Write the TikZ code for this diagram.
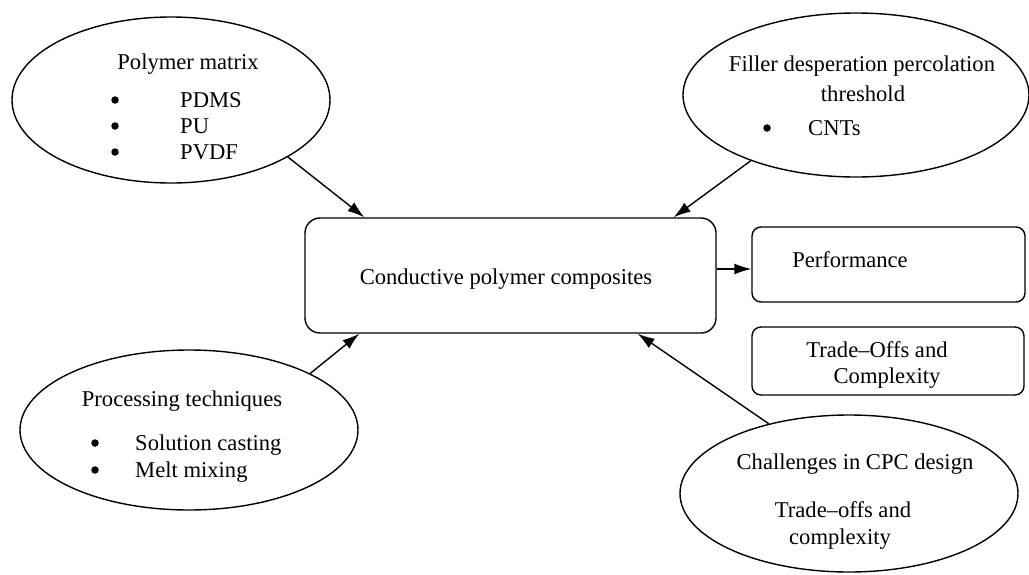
\documentclass[tikz,border=0pt]{standalone}
\usepackage{fontspec}
\setmainfont{Liberation Serif}
\usetikzlibrary{shapes.geometric,arrows.meta}
\begin{document}
\begin{tikzpicture}[x=1pt,y=-1pt,
  font=\fontsize{22.6}{27}\selectfont,
  bubble/.style={draw, ellipse, line width=1.4pt, inner sep=0pt},
  cbox/.style={draw, rounded corners=15pt, line width=1.4pt, inner sep=0pt},
  sbox/.style={draw, rounded corners=9pt, line width=1.4pt, inner sep=0pt},
  txt/.style={inner sep=0pt},
  item/.style={inner sep=0pt, anchor=west},
  dot/.style={circle, fill, inner sep=0pt, minimum size=7.5pt},
  link/.style={line width=1.4pt, -{Latex[length=17pt,width=11pt]}}]
\useasboundingbox (0,0) rectangle (1029,574);

% outlines
\node[bubble, minimum width=318pt, minimum height=166pt] (pm) at (171,100) {};
\node[bubble, minimum width=346pt, minimum height=164pt] (fil) at (856,95) {};
\node[bubble, minimum width=338pt, minimum height=160pt] (proc) at (189,430) {};
\node[bubble, minimum width=338pt, minimum height=157pt] (chal) at (849,493.5) {};
\node[cbox, minimum width=411pt, minimum height=115pt] (cpc) at (510.5,275.5) {};
\node[sbox, minimum width=273pt, minimum height=75pt] (perf) at (888.5,264.5) {};
\node[sbox, minimum width=272pt, minimum height=68pt] (trade) at (888,361) {};

% polymer matrix
\node[txt] (pmt) at (188,64) {Polymer matrix};
\node[dot] (pmb1) at (115,100) {};
\node[dot] (pmb2) at (115,126) {};
\node[dot] (pmb3) at (115,152) {};
\node[item] (pmi1) at (180,100) {PDMS};
\node[item] (pmi2) at (180,126) {PU};
\node[item] (pmi3) at (180,152) {PVDF};

% filler
\node[txt] (filt1) at (862,66) {Filler desperation percolation};
\node[txt] (filt2) at (863,94) {threshold};
\node[dot] (filb) at (767,128) {};
\node[item] (fili) at (808,128) {CNTs};

% centre and outputs
\node[txt] (cpct) at (506,279) {Conductive polymer composites};
\node[txt] (perft) at (850,260) {Performance};
\node[txt] (tradet1) at (877,350) {Trade–Offs and};
\node[txt] (tradet2) at (887,378) {Complexity};

% processing
\node[txt] (proct) at (182,401) {Processing techniques};
\node[dot] (procb1) at (95,443) {};
\node[dot] (procb2) at (95,470) {};
\node[item] (proci1) at (135,445) {Solution casting};
\node[item] (proci2) at (135,472) {Melt mixing};

% challenges
\node[txt] (chalt) at (855,464) {Challenges in CPC design};
\node[txt] (chalt2) at (843,510) {Trade–offs and};
\node[txt] (chalt3) at (840,539) {complexity};

% connectors
\draw[link] (pm.-26) -- ([xshift=60pt]cpc.north west);
\draw[link] (fil.212) -- ([xshift=-43pt]cpc.north east);
\draw[link] (proc.25) -- ([xshift=55pt]cpc.south west);
\draw[link] (chal.139) -- ([xshift=-79pt]cpc.south east);
\draw[link] ([yshift=6.5pt]cpc.east) -- ([yshift=6.5pt]cpc.east -| perf.west);
\end{tikzpicture}
\end{document}
